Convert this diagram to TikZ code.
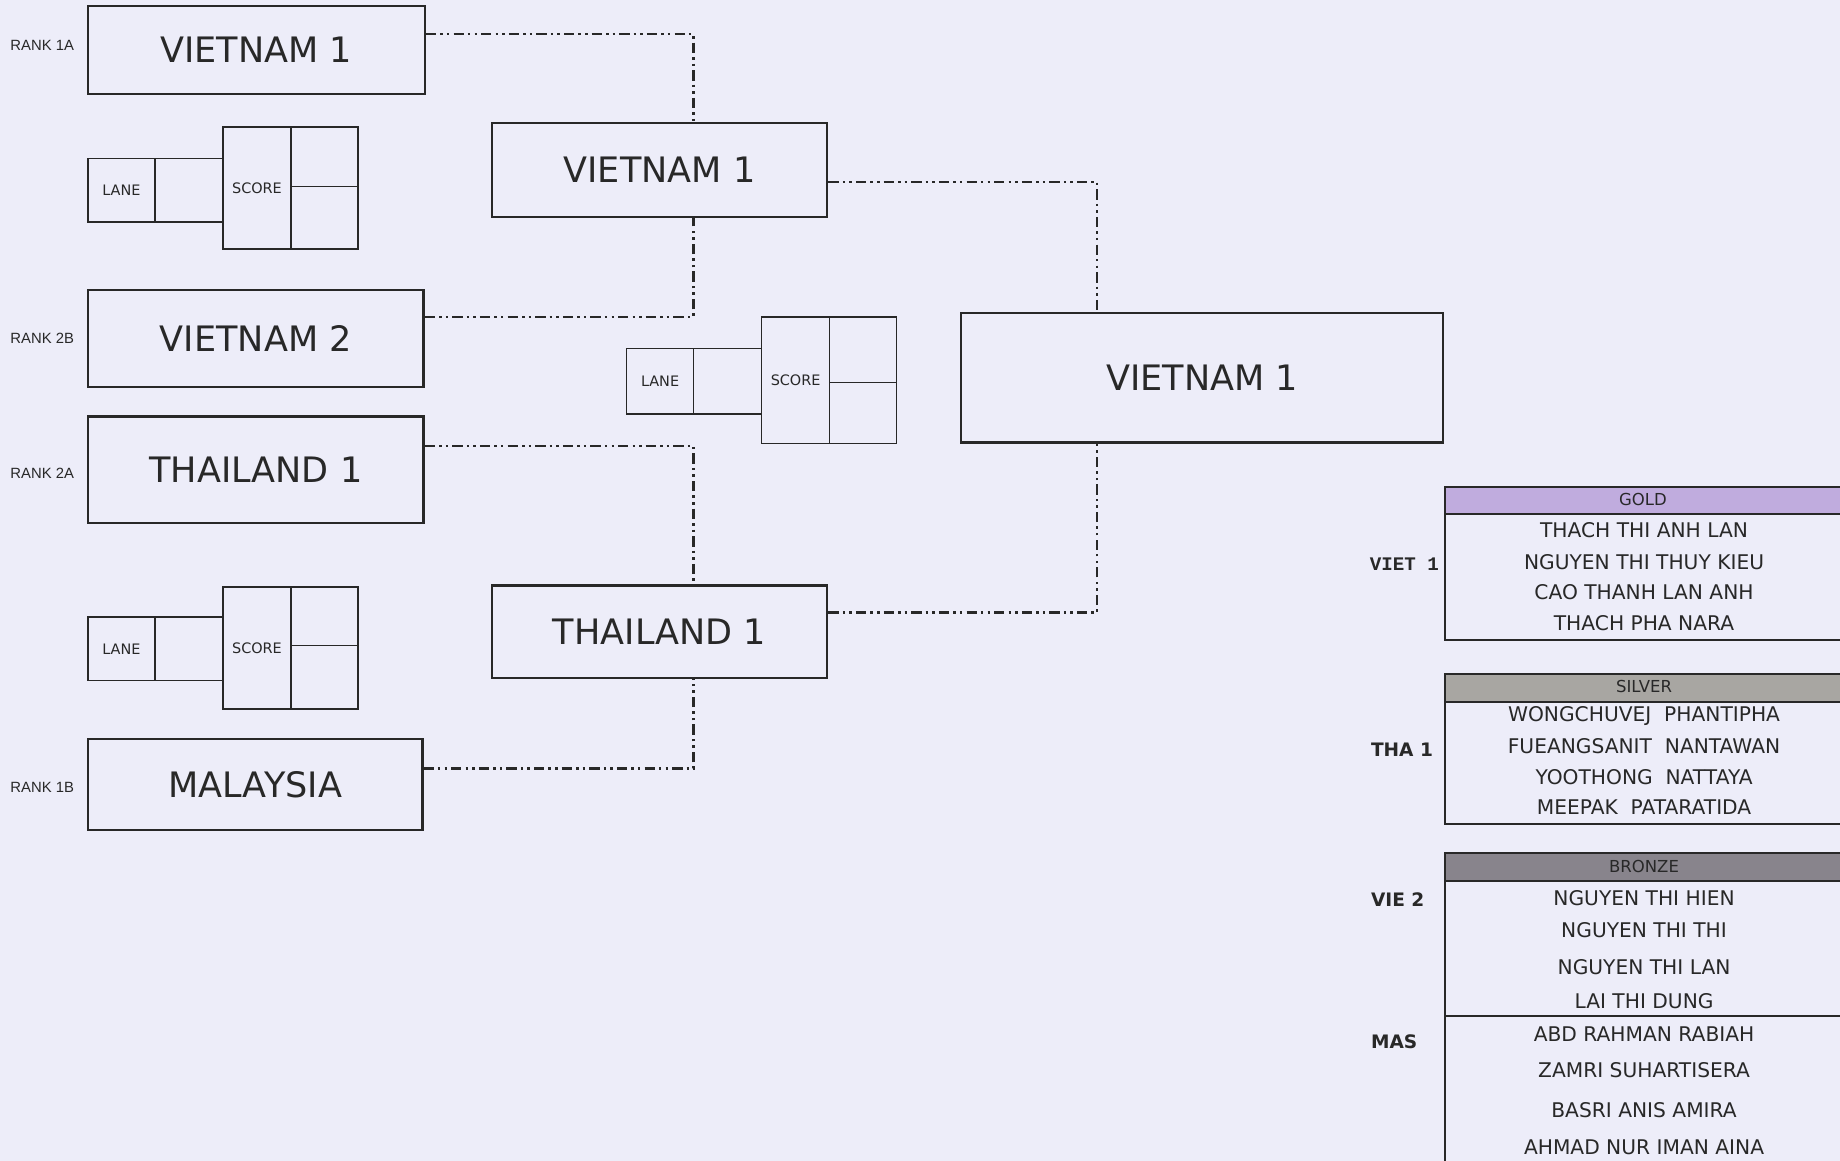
\documentclass[tikz,border=0pt]{standalone}
\usepackage{fontspec}
\setmainfont{DejaVu Sans}
\newfontfamily\rankfont{Liberation Sans}
\newfontfamily\monobold{Liberation Mono}
\usetikzlibrary{calc}
\definecolor{bgc}{RGB}{237,237,249}
\definecolor{ink}{RGB}{40,40,40}
\definecolor{goldh}{RGB}{192,172,222}
\definecolor{silverh}{RGB}{168,166,162}
\definecolor{bronzeh}{RGB}{136,132,140}
% #1 x0, #2 score top, #3 score bottom, #4 lane top, #5 lane bottom, #6 mid line, #7 name
\newcommand\LSgroup[7]{%
  \draw[cellline] (#1,#4) rectangle ({#1+57},#5);
  \draw[cellline] ({#1+57},#4) rectangle ({#1+115},#5);
  \draw[cellline] ({#1+115},#2) rectangle ({#1+173},#3);
  \draw[cellline] ({#1+173},#2) rectangle ({#1+230},#3);
  \draw[cellline] ({#1+173},#6) -- ({#1+230},#6);
  \node[small] (lane#7) at ({#1+28.5},{(#4+#5)/2}) {LANE};
  \node[small] (score#7) at ({#1+144},{(#2+#3)/2}) {SCORE};
}
\begin{document}
\begin{tikzpicture}[x=0.02cm,y=-0.02cm,
  team/.style={draw=ink, line width=1.1pt, inner sep=0pt, font=\fontsize{17}{20}\selectfont, text=ink},
  cellline/.style={draw=ink, line width=0.8pt},
  small/.style={font=\fontsize{7}{8}\selectfont, text=ink, inner sep=0pt},
  rank/.style={font=\rankfont\fontsize{7.2}{8}\selectfont, inner sep=0pt, text=ink},
  conn/.style={draw=ink, line width=1.1pt, dash pattern=on 5pt off 2pt on 1.2pt off 2pt on 1.2pt off 2pt},
  medal/.style={font=\fontsize{9.8}{11}\selectfont, inner sep=0pt, text=ink},
  mhead/.style={font=\fontsize{8}{9}\selectfont, inner sep=0pt, text=ink},
  mlabel/.style={font=\bfseries\fontsize{9}{10}\selectfont, inner sep=0pt, anchor=west, text=ink},
  tabline/.style={draw=ink, line width=1pt}]
\useasboundingbox (0,0) rectangle (1568,989);
\fill[bgc] (0,0) rectangle (1568,989);
\clip (0,0) rectangle (1568,989);

% first round boxes
\node[team, minimum width=5.74cm, minimum height=1.5cm] (r1a) at (218.5,42.5) {VIETNAM 1};
\node[team, minimum width=5.72cm, minimum height=1.66cm] (r2b) at (218,288.5) {VIETNAM 2};
\node[team, minimum width=5.72cm, minimum height=1.82cm] (r2a) at (218,400.5) {THAILAND 1};
\node[team, minimum width=5.70cm, minimum height=1.54cm] (r1b) at (217.5,668.5) {MALAYSIA};

\node[rank] (k1) at (36,39) {RANK 1A};
\node[rank] (k2) at (36,288) {RANK 2B};
\node[rank] (k3) at (36,403) {RANK 2A};
\node[rank] (k4) at (36,671) {RANK 1B};

% semi-finals and final
\node[team, minimum width=5.72cm, minimum height=1.6cm] (sf1) at (562,145) {VIETNAM 1};
\node[team, minimum width=5.72cm, minimum height=1.58cm] (sf2) at (562,538.5) {THAILAND 1};
\node[team, minimum width=8.22cm, minimum height=2.2cm] (fin) at (1024.5,322) {VIETNAM 1};

% lane / score boxes
\LSgroup{75}{108}{212}{135}{189}{159}{a}
\LSgroup{534}{270}{378}{297}{353}{326}{b}
\LSgroup{75}{500}{604}{526}{580}{550}{c}

% connectors
\draw[conn] ([yshift=0.27cm]r1a.east) -| ([xshift=0.58cm]sf1.north);
\draw[conn] ([yshift=0.37cm]r2b.east) -| ([xshift=0.58cm]sf1.south);
\draw[conn] ([yshift=0.41cm]r2a.east) -| ([xshift=0.58cm]sf2.north);
\draw[conn] ([yshift=0.27cm]r1b.east) -| ([xshift=0.58cm]sf2.south);
\draw[conn] ([yshift=-0.2cm]sf1.east) -| ([xshift=-1.79cm]fin.north);
\draw[conn] ([yshift=0.33cm]sf2.east) -| ([xshift=-1.79cm]fin.south);

% GOLD table
\fill[goldh] (1231,415) rectangle (1600,438);
\draw[tabline] (1600,415) -- (1231,415) -- (1231,545) -- (1600,545);
\draw[tabline] (1231,438) -- (1600,438);
\node[mhead] (gh) at (1400,426) {GOLD};
\node[medal] (g1) at (1401,452) {THACH THI ANH LAN};
\node[medal] (g2) at (1401,479) {NGUYEN THI THUY KIEU};
\node[medal] (g3) at (1401,505) {CAO THANH LAN ANH};
\node[medal] (g4) at (1401,531) {THACH PHA NARA};
\node[mlabel, font=\monobold\bfseries\fontsize{9.3}{10}\selectfont] (gl) at (1167,481) {VIET 1};

% SILVER table
\fill[silverh] (1231,574) rectangle (1600,598);
\draw[tabline] (1600,574) -- (1231,574) -- (1231,702) -- (1600,702);
\draw[tabline] (1231,598) -- (1600,598);
\node[mhead] (sh) at (1401,585) {SILVER};
\node[medal] (s1) at (1401,610) {WONGCHUVEJ\ \ PHANTIPHA};
\node[medal] (s2) at (1401,636) {FUEANGSANIT\ \ NANTAWAN};
\node[medal] (s3) at (1401,662) {YOOTHONG\ \ NATTAYA};
\node[medal] (s4) at (1401,688) {MEEPAK\ \ PATARATIDA};
\node[mlabel] (sl) at (1168,639) {THA 1};

% BRONZE table
\fill[bronzeh] (1231,727) rectangle (1600,751);
\draw[tabline] (1600,727) -- (1231,727) -- (1231,1000);
\draw[tabline] (1231,751) -- (1600,751);
\draw[tabline] (1231,866) -- (1600,866);
\node[mhead] (bh) at (1401,738) {BRONZE};
\node[medal] (b1) at (1401,765) {NGUYEN THI HIEN};
\node[medal] (b2) at (1401,793) {NGUYEN THI THI};
\node[medal] (b3) at (1401,824) {NGUYEN THI LAN};
\node[medal] (b4) at (1401,853) {LAI THI DUNG};
\node[medal] (b5) at (1401,881) {ABD RAHMAN RABIAH};
\node[medal] (b6) at (1401,912) {ZAMRI SUHARTISERA};
\node[medal] (b7) at (1401,946) {BASRI ANIS AMIRA};
\node[medal] (b8) at (1401,978) {AHMAD NUR IMAN AINA};
\node[mlabel] (bl1) at (1168,767) {VIE 2};
\node[mlabel] (bl2) at (1168,888) {MAS};
\end{tikzpicture}
\end{document}
